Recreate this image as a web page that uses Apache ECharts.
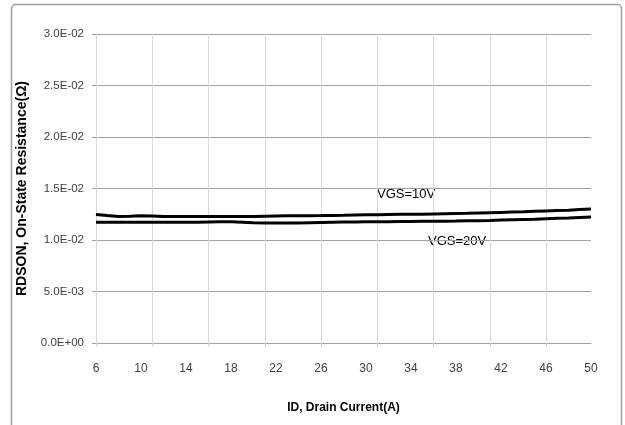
<!DOCTYPE html>
<html>
<head>
<meta charset="utf-8">
<script src="https://cdn.jsdelivr.net/npm/echarts@6/dist/echarts.min.js"></script>
<style>
html,body{margin:0;padding:0;background:#fff;}
#c{width:625px;height:425px;}
</style>
</head>
<body>
<div id="c"></div>
<script>
var categories = [6,7,8,9,10,11,12,13,14,15,16,17,18,19,20,21,22,23,24,25,26,27,28,29,30,31,32,33,34,35,36,37,38,39,40,41,42,43,44,45,46,47,48,49,50];
var vgs10 = [0.01248,0.01238,0.01229,0.01231,0.01235,0.01233,0.01229,0.01228,0.01228,0.01228,0.01228,0.01228,0.01228,0.01228,0.01229,0.01231,0.01233,0.01235,0.01236,0.01236,0.01237,0.01239,0.01240,0.01242,0.01244,0.01246,0.01248,0.01249,0.01250,0.01251,0.01253,0.01255,0.01257,0.01259,0.01262,0.01265,0.01268,0.01271,0.01274,0.01278,0.01282,0.01286,0.01290,0.01295,0.01300];
var vgs20 = [0.01172,0.01172,0.01172,0.01172,0.01172,0.01172,0.01172,0.01172,0.01172,0.01172,0.01174,0.01176,0.01176,0.01172,0.01168,0.01166,0.01166,0.01166,0.01166,0.01168,0.01170,0.01172,0.01174,0.01175,0.01176,0.01177,0.01178,0.01179,0.01180,0.01181,0.01182,0.01183,0.01184,0.01186,0.01188,0.01190,0.01193,0.01196,0.01199,0.01202,0.01206,0.01210,0.01214,0.01219,0.01224];
var seriesNames = ['VGS=10V','VGS=20V'];
var xTitle = 'ID, Drain Current(A)';
var yTitle = 'RDSON, On-State Resistance(Ω)';

var FONT = '"Liberation Sans", Arial, sans-serif';
function fmt(v){
  var s = Number(v).toExponential(1).toUpperCase();
  return s.replace(/E([+-])(\d)$/, 'E$10$2');
}
var chart = echarts.init(document.getElementById('c'), null, {renderer:'canvas'});
chart.setOption({
  animation:false,
  backgroundColor:'#fff',
  grid:{left:96,right:34,top:34,bottom:82,containLabel:false},
  xAxis:{
    type:'category',data:categories,boundaryGap:false,
    name:xTitle,nameLocation:'middle',nameGap:59,
    nameTextStyle:{fontFamily:FONT,fontSize:12,fontWeight:'bold',color:'#000'},
    axisLine:{show:true,lineStyle:{color:'#a0a0a0',width:1}},
    axisTick:{show:true,interval:4,length:4,lineStyle:{color:'#d9d9d9',width:1}},
    axisLabel:{interval:3,margin:20,fontFamily:FONT,fontSize:12,color:'#404040'},
    splitLine:{show:true,interval:4,lineStyle:{color:'#d9d9d9',width:1}}
  },
  yAxis:{
    type:'value',min:0,max:0.03,interval:0.005,
    name:yTitle,nameLocation:'middle',nameGap:67,
    nameTextStyle:{fontFamily:FONT,fontSize:14,fontWeight:'bold',color:'#000'},
    axisLine:{show:true,lineStyle:{color:'#d9d9d9',width:1}},
    axisTick:{show:true,length:4,lineStyle:{color:'#a0a0a0',width:1}},
    axisLabel:{margin:12,fontFamily:FONT,fontSize:11.5,color:'#404040',formatter:fmt},
    splitLine:{show:true,lineStyle:{color:'#a0a0a0',width:1}}
  },
  series:[
    {name:seriesNames[0],type:'line',data:vgs10,symbol:'none',lineStyle:{color:'#000',width:3},z:3},
    {name:seriesNames[1],type:'line',data:vgs20,symbol:'none',lineStyle:{color:'#000',width:3},z:3}
  ],
  graphic:[
    {type:'rect',shape:{x:11.5,y:4.5,width:610,height:430,r:4},style:{fill:'none',stroke:'#a0a0a0',lineWidth:1.5},silent:true,z:-1},
    {type:'text',left:377,top:188,style:{text:seriesNames[0],fontFamily:FONT,fontSize:13,fill:'#000'}},
    {type:'text',left:428,top:235,style:{text:seriesNames[1],fontFamily:FONT,fontSize:13,fill:'#000'}}
  ]
});
</script>
</body>
</html>
